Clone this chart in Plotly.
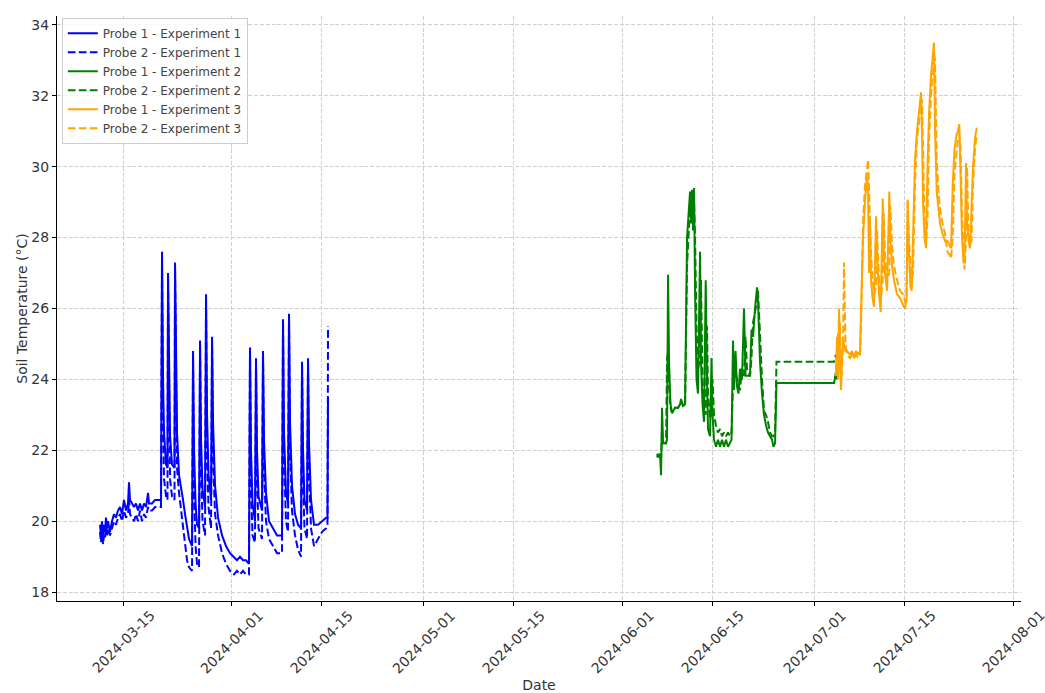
import plotly.graph_objects as go

# ---------------- Experiment 1 (blue) ----------------
exp1_times = [
    "2024-03-11 09:45", "2024-03-11 13:30", "2024-03-11 17:15", "2024-03-11 21:00", "2024-03-12 00:45",
    "2024-03-12 04:30", "2024-03-12 08:15", "2024-03-12 12:00", "2024-03-12 15:45", "2024-03-12 23:15",
    "2024-03-13 06:45", "2024-03-13 14:15", "2024-03-13 21:45", "2024-03-14 05:15", "2024-03-14 12:45",
    "2024-03-14 20:15", "2024-03-15 03:45", "2024-03-15 11:15", "2024-03-15 18:45", "2024-03-15 22:30",
    "2024-03-16 02:15", "2024-03-16 09:45", "2024-03-16 17:15", "2024-03-17 00:45", "2024-03-17 08:15",
    "2024-03-17 15:45", "2024-03-17 23:15", "2024-03-18 06:45", "2024-03-18 14:15", "2024-03-18 21:45",
    "2024-03-19 01:30", "2024-03-19 12:45", "2024-03-20 00:00", "2024-03-20 22:30",
    "2024-03-21 02:15", "2024-03-21 06:00", "2024-03-21 09:45", "2024-03-21 17:15", "2024-03-21 22:45",
    "2024-03-22 00:45", "2024-03-22 04:30", "2024-03-22 08:15", "2024-03-22 15:45", "2024-03-23 01:00",
    "2024-03-23 03:00", "2024-03-23 06:45", "2024-03-23 10:30", "2024-03-23 18:00", "2024-03-24 01:30",
    "2024-03-24 09:00", "2024-03-24 16:30", "2024-03-25 00:00", "2024-03-25 07:30", "2024-03-25 18:45",
    "2024-03-25 22:30", "2024-03-26 02:15", "2024-03-26 08:00", "2024-03-26 13:30", "2024-03-26 21:00",
    "2024-03-27 00:45", "2024-03-27 04:30", "2024-03-27 10:00", "2024-03-27 19:30",
    "2024-03-27 23:15", "2024-03-28 03:00", "2024-03-28 08:30", "2024-03-28 18:00",
    "2024-03-28 21:45", "2024-03-29 01:30", "2024-03-29 09:00", "2024-03-29 20:15", "2024-03-30 11:15",
    "2024-03-31 02:00", "2024-03-31 17:00", "2024-04-01 08:00", "2024-04-01 19:15", "2024-04-02 06:30",
    "2024-04-02 17:45", "2024-04-03 05:00", "2024-04-03 16:15",
    "2024-04-03 20:00", "2024-04-03 23:45", "2024-04-04 05:30", "2024-04-04 14:45",
    "2024-04-04 18:30", "2024-04-04 22:15", "2024-04-05 04:00", "2024-04-05 17:00",
    "2024-04-05 20:45", "2024-04-06 00:30", "2024-04-06 08:00", "2024-04-06 19:15", "2024-04-07 10:15",
    "2024-04-08 01:15", "2024-04-08 20:00",
    "2024-04-08 23:45", "2024-04-09 03:30", "2024-04-09 11:00", "2024-04-09 18:30",
    "2024-04-09 22:15", "2024-04-10 02:00", "2024-04-10 09:30", "2024-04-10 20:45", "2024-04-11 08:00",
    "2024-04-11 19:15",
    "2024-04-11 23:00", "2024-04-12 02:45", "2024-04-12 08:15", "2024-04-12 17:45",
    "2024-04-12 21:30", "2024-04-13 01:15", "2024-04-13 08:45", "2024-04-13 20:00", "2024-04-14 11:00",
    "2024-04-15 02:00", "2024-04-15 17:00", "2024-04-15 22:30", "2024-04-16 00:30",
]
exp1_probe1 = [
    19.9, 19.6, 20.0, 19.5, 19.9, 19.7, 20.1, 19.8, 20.0, 19.7,
    20.0, 20.2, 20.1, 20.3, 20.4, 20.2, 20.6, 20.3, 20.5, 21.1,
    20.6, 20.5, 20.4, 20.5, 20.3, 20.5, 20.3, 20.5, 20.4, 20.8,
    20.5, 20.5, 20.6, 20.6,
    27.6, 24.0, 22.5, 21.6, 21.5,
    27.0, 23.8, 22.4, 21.6, 21.5,
    27.3, 24.0, 22.5, 21.3, 21.0, 20.6, 20.2, 19.8, 19.5, 19.3,
    24.8, 22.0, 20.5, 19.9, 19.8,
    25.1, 22.3, 20.9, 20.4,
    26.4, 23.0, 21.3, 20.6,
    25.2, 22.8, 21.0, 20.1, 19.6, 19.3, 19.1, 19.0, 18.9, 19.0, 18.9, 18.9, 18.8,
    24.9, 22.0, 20.5, 20.0,
    24.6, 22.0, 20.7, 20.3,
    24.8, 22.3, 20.8, 20.0, 19.8, 19.6, 19.6,
    25.7, 22.5, 20.8, 20.5,
    25.85, 22.8, 21.0, 20.2, 19.9, 19.8,
    24.5, 22.0, 20.6, 20.3,
    24.6, 22.2, 20.6, 19.9, 19.9, 20.0, 20.1, 20.1, 23.5,
]
exp1_probe2 = [
    19.7, 19.4, 19.8, 19.35, 19.6, 19.5, 19.9, 19.6, 19.8, 19.6,
    19.8, 20.0, 19.9, 20.1, 20.2, 20.0, 20.3, 20.1, 20.2, 20.6,
    20.2, 20.1, 20.0, 20.2, 20.0, 20.3, 20.0, 20.2, 20.1, 20.4,
    20.3, 20.3, 20.4, 20.4,
    27.3, 23.0, 21.2, 20.7, 20.6,
    26.8, 22.8, 21.2, 20.7, 20.6,
    27.1, 23.0, 21.5, 20.8, 20.3, 19.8, 19.3, 18.9, 18.7, 18.6,
    24.6, 21.0, 19.3, 18.8, 18.7,
    24.9, 21.5, 20.0, 19.6,
    26.2, 22.0, 20.4, 19.8,
    25.0, 21.8, 20.2, 19.6, 19.1, 18.8, 18.6, 18.5, 18.6, 18.5, 18.6, 18.5, 18.5,
    24.8, 21.0, 19.6, 19.4,
    24.5, 21.2, 19.8, 19.5,
    24.7, 21.5, 20.0, 19.5, 19.3, 19.1, 19.1,
    25.6, 21.8, 20.0, 19.7,
    25.8, 22.0, 20.3, 19.6, 19.2, 19.0,
    24.4, 21.2, 19.8, 19.5,
    24.5, 21.4, 19.8, 19.3, 19.5, 19.7, 19.8, 19.9, 25.5,
]

# ---------------- Experiment 2 (green) ----------------
exp2_times = [
    "2024-06-06 09:45", "2024-06-06 15:15", "2024-06-06 21:00", "2024-06-07 00:45", "2024-06-07 04:30",
    "2024-06-07 08:15", "2024-06-07 19:30", "2024-06-07 23:15", "2024-06-08 03:00", "2024-06-08 06:45",
    "2024-06-08 12:15", "2024-06-08 18:00", "2024-06-09 05:15", "2024-06-09 16:30", "2024-06-10 00:00",
    "2024-06-10 03:45", "2024-06-10 11:15", "2024-06-10 18:45", "2024-06-11 02:15", "2024-06-11 09:45",
    "2024-06-11 13:30", "2024-06-11 17:15", "2024-06-11 21:00", "2024-06-12 00:45", "2024-06-12 04:30",
    "2024-06-12 08:15", "2024-06-12 13:45", "2024-06-12 19:15", "2024-06-13 03:00", "2024-06-13 06:30",
    "2024-06-13 12:15", "2024-06-13 17:45", "2024-06-14 00:15", "2024-06-14 05:00", "2024-06-14 08:45",
    "2024-06-14 16:15", "2024-06-14 22:00", "2024-06-15 01:45", "2024-06-15 07:15", "2024-06-15 14:45",
    "2024-06-15 22:15", "2024-06-16 05:45", "2024-06-16 13:15", "2024-06-16 20:45", "2024-06-17 04:15",
    "2024-06-17 11:45", "2024-06-17 19:15", "2024-06-18 01:00", "2024-06-18 06:30", "2024-06-18 10:15",
    "2024-06-18 16:00", "2024-06-18 21:30", "2024-06-19 03:00", "2024-06-19 08:45", "2024-06-19 16:15",
    "2024-06-19 23:45", "2024-06-20 05:30", "2024-06-20 11:00", "2024-06-20 22:15", "2024-06-21 03:45",
    "2024-06-21 09:30", "2024-06-21 17:00", "2024-06-22 00:30", "2024-06-22 04:15", "2024-06-22 11:45",
    "2024-06-22 19:15", "2024-06-23 02:45", "2024-06-23 10:15", "2024-06-23 17:45", "2024-06-24 01:15",
    "2024-06-24 08:45", "2024-06-24 14:15", "2024-06-24 20:00", "2024-06-25 01:30", "2024-06-27 04:00",
    "2024-06-30 07:00", "2024-07-04 01:00", "2024-07-04 08:30", "2024-07-04 12:15",
]
exp2_probe1 = [
    21.9, 21.8, 21.9, 21.3, 23.2, 22.2, 22.2, 22.3, 26.95, 24.5,
    23.3, 23.05, 23.2, 23.2, 23.3, 23.45, 23.25, 23.3, 28.0, 28.8,
    29.3, 28.4, 29.35, 28.2, 29.4, 26.5, 24.0, 23.6, 27.6, 24.5,
    23.3, 22.8, 26.8, 24.0, 22.6, 22.4, 24.6, 23.0, 22.3, 22.1,
    22.3, 22.1, 22.3, 22.1, 22.3, 22.1, 22.2, 22.3, 25.1, 23.7,
    24.8, 23.8, 23.6, 24.3, 24.0, 26.0, 24.1, 24.1, 24.1, 25.4,
    25.2, 26.0, 26.6, 26.2, 24.5, 23.6, 23.0, 22.7, 22.5, 22.4,
    22.3, 22.1, 22.2, 23.9, 23.9, 23.9, 23.9, 24.2, 24.0,
]
exp2_probe2 = [
    21.8, 21.9, 21.8, 21.7, 22.6, 22.2, 22.2, 24.6, 24.8, 23.8,
    23.2, 23.05, 23.2, 23.2, 23.3, 23.4, 23.25, 23.25, 27.2, 28.5,
    28.9, 29.1, 28.6, 29.2, 29.0, 28.0, 25.5, 24.3, 24.6, 26.8,
    24.0, 23.3, 23.0, 25.5, 23.6, 22.9, 23.0, 24.0, 23.0, 22.7,
    22.5, 22.6, 22.4, 22.5, 22.4, 22.5, 22.4, 22.5, 23.9, 24.7,
    24.2, 24.0, 23.8, 23.7, 24.3, 24.1, 25.2, 24.3, 24.1, 24.6,
    25.6, 25.9, 26.2, 26.5, 25.2, 24.0, 23.1, 23.0, 22.8, 22.5,
    22.4, 22.4, 22.5, 24.5, 24.5, 24.5, 24.5, 24.7, 24.5,
]

# ---------------- Experiment 3 (orange) ----------------
exp3_times = [
    "2024-07-04 08:35", "2024-07-04 12:20", "2024-07-04 16:05", "2024-07-04 19:50", "2024-07-04 23:35",
    "2024-07-05 03:20", "2024-07-05 07:05", "2024-07-05 10:50", "2024-07-05 14:35", "2024-07-05 20:10",
    "2024-07-06 01:50", "2024-07-06 13:05", "2024-07-06 20:35", "2024-07-07 04:00", "2024-07-07 11:30",
    "2024-07-07 19:00", "2024-07-08 02:30", "2024-07-08 06:20", "2024-07-08 13:50", "2024-07-08 21:20",
    "2024-07-09 04:50", "2024-07-09 08:35", "2024-07-09 12:20", "2024-07-09 16:05", "2024-07-09 19:50",
    "2024-07-10 01:25", "2024-07-10 07:05", "2024-07-10 14:35", "2024-07-10 18:20", "2024-07-11 01:50",
    "2024-07-11 08:10", "2024-07-11 15:40", "2024-07-11 19:25", "2024-07-12 00:20", "2024-07-12 07:50",
    "2024-07-12 16:25", "2024-07-12 20:10", "2024-07-13 02:30", "2024-07-13 10:00", "2024-07-13 21:15",
    "2024-07-14 08:30", "2024-07-14 19:45", "2024-07-15 03:15", "2024-07-15 08:50", "2024-07-15 13:20",
    "2024-07-15 18:10", "2024-07-15 23:50", "2024-07-16 04:20", "2024-07-16 09:10", "2024-07-16 16:40",
    "2024-07-17 00:10", "2024-07-17 07:40", "2024-07-17 15:10", "2024-07-17 19:00", "2024-07-17 22:40",
    "2024-07-18 04:25", "2024-07-18 10:00", "2024-07-18 15:35", "2024-07-18 21:20", "2024-07-19 04:50",
    "2024-07-19 12:20", "2024-07-19 16:00", "2024-07-19 19:50", "2024-07-20 02:05", "2024-07-20 08:55",
    "2024-07-20 14:30", "2024-07-20 23:55", "2024-07-21 09:20", "2024-07-21 18:35", "2024-07-22 04:00",
    "2024-07-22 07:50", "2024-07-22 14:05", "2024-07-22 20:50", "2024-07-23 04:20", "2024-07-23 10:00",
    "2024-07-23 14:50", "2024-07-23 19:20", "2024-07-24 01:00", "2024-07-24 06:35", "2024-07-24 10:20",
    "2024-07-24 16:00", "2024-07-24 19:40", "2024-07-25 01:20", "2024-07-25 06:55", "2024-07-25 12:30",
    "2024-07-25 18:10", "2024-07-26 01:40", "2024-07-26 08:00",
]
exp3_probe1 = [
    24.1, 25.2, 24.0, 26.0, 24.4, 23.7, 24.6, 25.2, 25.0, 24.8,
    24.8, 24.7, 24.8, 24.6, 24.8, 24.7, 24.8, 26.0, 28.0, 29.0,
    29.8, 29.4, 27.0, 28.4, 26.8, 26.3, 26.05, 28.6, 27.5, 26.4,
    25.9, 29.1, 27.6, 27.0, 26.5, 29.3, 28.0, 27.2, 26.8, 26.4,
    26.3, 26.1, 26.0, 26.3, 29.0, 27.5, 26.6, 26.5, 28.0, 30.2,
    31.0, 31.5, 32.1, 31.0, 29.0, 28.0, 27.7, 30.0, 31.5, 32.6,
    33.2, 33.5, 31.0, 29.3, 28.8, 28.4, 28.1, 27.9, 27.9, 27.75,
    27.7, 29.5, 30.5, 30.9, 31.0, 31.2, 29.5, 28.0, 27.3, 27.3,
    30.1, 28.5, 27.9, 27.7, 28.8, 30.0, 30.8, 31.1,
]
exp3_probe2 = [
    24.3, 24.6, 25.3, 24.3, 25.6, 24.0, 24.3, 25.0, 27.3, 25.0,
    24.7, 24.6, 24.7, 24.6, 24.7, 24.6, 24.7, 25.5, 28.4, 29.5,
    29.9, 30.2, 29.4, 28.0, 27.5, 26.9, 26.4, 26.6, 28.2, 26.8,
    26.2, 26.8, 28.7, 27.5, 26.8, 27.0, 28.9, 27.8, 27.2, 26.8,
    26.5, 26.4, 26.2, 26.2, 29.1, 27.9, 27.0, 26.7, 27.0, 29.5,
    30.8, 31.3, 31.8, 31.9, 30.5, 28.6, 27.8, 28.5, 30.8, 32.0,
    32.6, 33.2, 33.0, 30.2, 29.3, 28.8, 28.4, 28.1, 27.6, 27.5,
    27.4, 28.0, 29.8, 30.5, 30.8, 30.9, 30.6, 28.6, 27.4, 27.1,
    28.0, 30.0, 28.2, 27.8, 27.9, 29.5, 30.5, 30.9,
]

tick_dates = ["2024-03-15", "2024-04-01", "2024-04-15", "2024-05-01", "2024-05-15",
              "2024-06-01", "2024-06-15", "2024-07-01", "2024-07-15", "2024-08-01"]
y_ticks = [18, 20, 22, 24, 26, 28, 30, 32, 34]

BLUE, GREEN, ORANGE = "#0000FF", "#008000", "#FFA500"
DASH = "7.7px,3.3px"

series = [
    ("Probe 1 - Experiment 1", exp1_times, exp1_probe1, BLUE, "solid"),
    ("Probe 2 - Experiment 1", exp1_times, exp1_probe2, BLUE, DASH),
    ("Probe 1 - Experiment 2", exp2_times, exp2_probe1, GREEN, "solid"),
    ("Probe 2 - Experiment 2", exp2_times, exp2_probe2, GREEN, DASH),
    ("Probe 1 - Experiment 3", exp3_times, exp3_probe1, ORANGE, "solid"),
    ("Probe 2 - Experiment 3", exp3_times, exp3_probe2, ORANGE, DASH),
]

fig = go.Figure()
for name, t, v, c, d in series:
    fig.add_trace(go.Scatter(x=t, y=v, mode="lines", name=name,
                             line=dict(color=c, width=2, dash=d)))

FONT = "DejaVu Sans"
TXT = "#333333"

# rotated, centred date labels (matplotlib style) placed on the x scale
for d in tick_dates:
    fig.add_annotation(x=d, y=0, xref="x", yref="paper", text=d, showarrow=False,
                       textangle=-45, xanchor="center", yanchor="top", yshift=-4,
                       font=dict(family=FONT, size=14, color=TXT))

fig.update_layout(
    width=1045, height=693,
    margin=dict(l=57, r=24, t=16, b=92),
    plot_bgcolor="white", paper_bgcolor="white",
    font=dict(family=FONT, size=14, color=TXT),
    showlegend=True,
    legend=dict(x=0.005, y=0.997, xanchor="left", yanchor="top",
                bgcolor="rgba(255,255,255,0.8)", bordercolor="#cccccc", borderwidth=1,
                font=dict(family=FONT, size=12, color="#444444")),
    xaxis=dict(
        type="date", range=["2024-03-04 16:35", "2024-08-02 06:00"],
        tickmode="array", tickvals=tick_dates, showticklabels=False,
        ticks="outside", ticklen=4, tickwidth=1, tickcolor="black",
        showline=True, linecolor="black", linewidth=1,
        showgrid=True, gridcolor="#d0d0d0", griddash="4px,1.8px", gridwidth=1,
        zeroline=False,
        title=dict(text="Date", font=dict(family=FONT, size=14, color=TXT), standoff=77),
        automargin=False,
    ),
    yaxis=dict(
        range=[17.75, 34.25], tickmode="array", tickvals=y_ticks,
        ticks="outside", ticklen=4, tickwidth=1, tickcolor="black",
        tickfont=dict(family=FONT, size=14, color=TXT),
        showline=True, linecolor="black", linewidth=1,
        showgrid=True, gridcolor="#d0d0d0", griddash="4px,1.8px", gridwidth=1,
        zeroline=False,
        title=dict(text="Soil Temperature (°C)", font=dict(family=FONT, size=14, color=TXT), standoff=0),
        automargin=False,
    ),
)

fig.write_html("out.html", config={"displayModeBar": False},
               post_script="document.body.style.margin='0';document.body.style.overflow='hidden';")
